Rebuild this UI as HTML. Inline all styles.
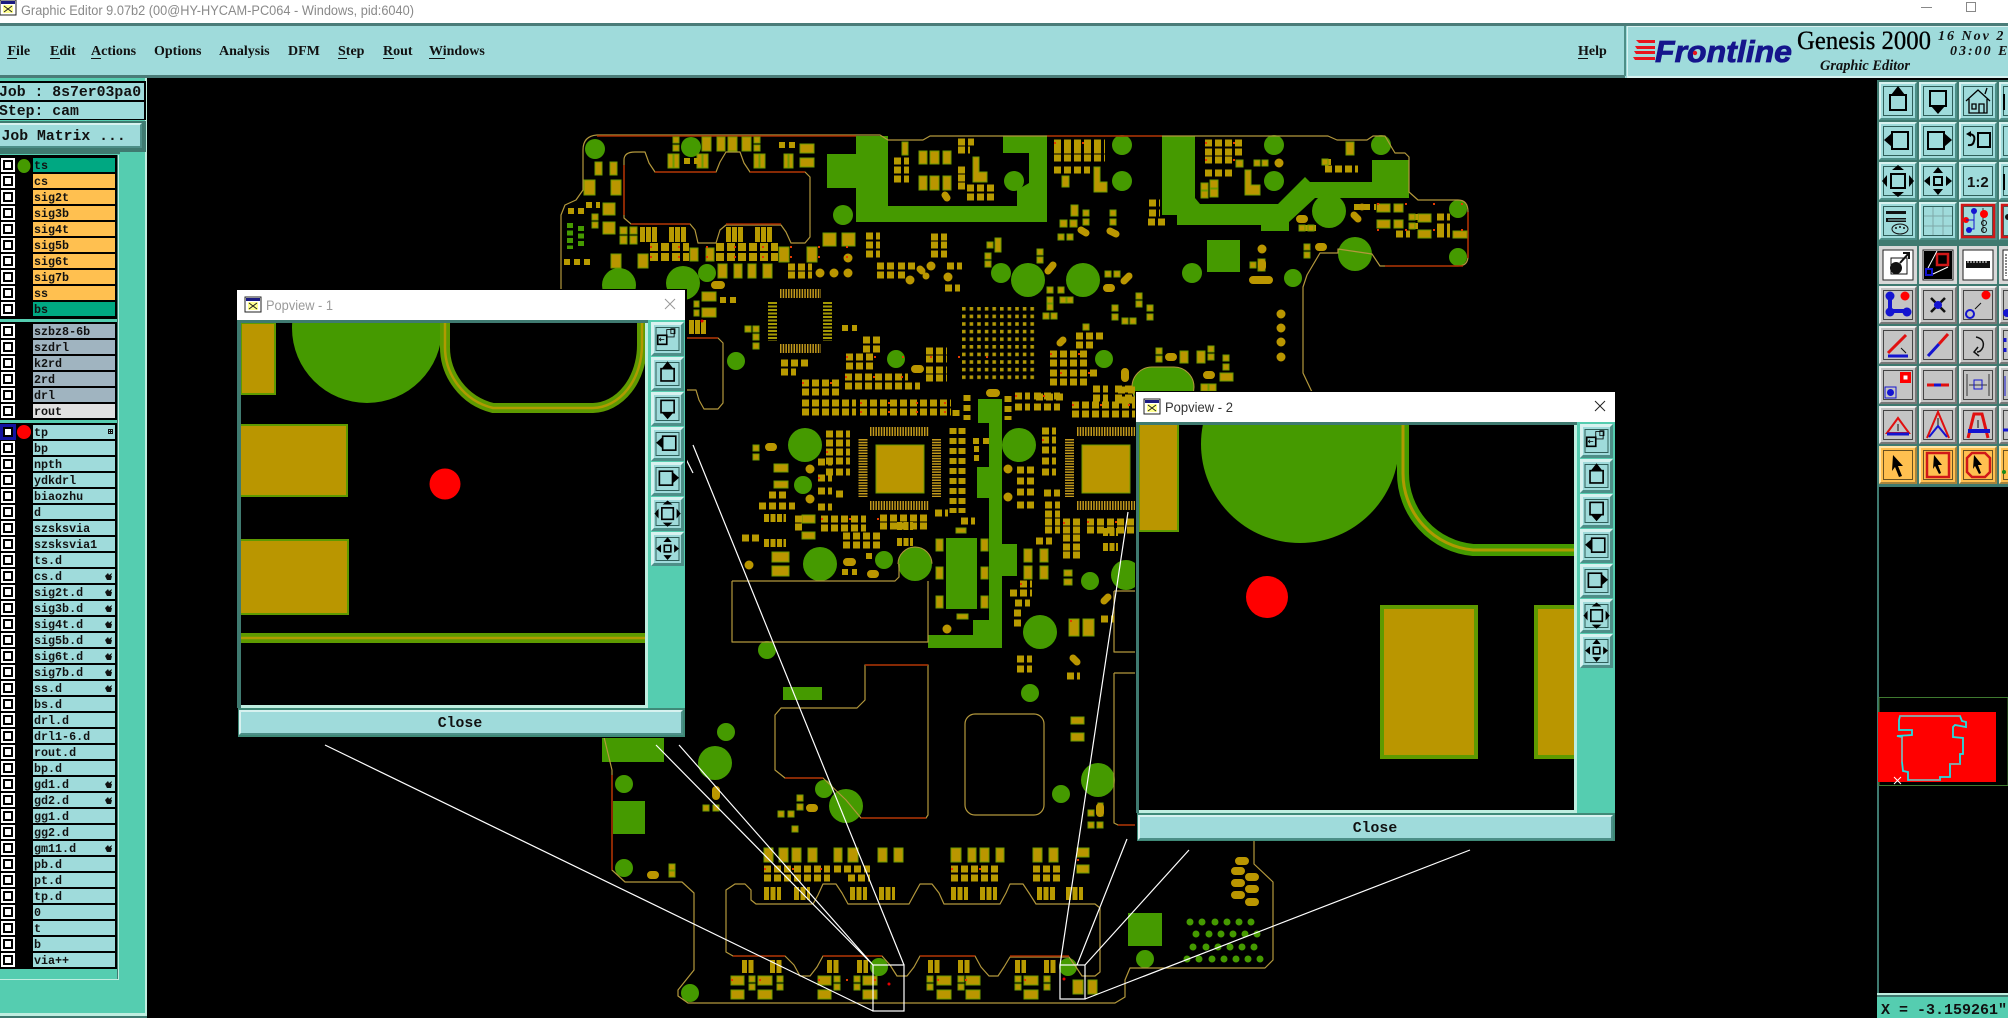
<!DOCTYPE html>
<html><head><meta charset="utf-8"><title>Graphic Editor</title>
<style>
html,body{margin:0;padding:0;background:#000;width:2008px;height:1018px;overflow:hidden}
svg{display:block}
.m{font:bold 14px "Liberation Serif",serif;fill:#111}
.l{font:bold 11.7px "Liberation Mono",monospace;fill:#111}
.j{font:bold 14.8px "Liberation Mono",monospace;fill:#111}
.o{fill:none;stroke:#b3983c;stroke-width:1.2;stroke-linejoin:round}
.r{fill:none;stroke:#a52a00;stroke-width:1.6}
.b{fill:#ba9600;stroke:#6c9a00;stroke-width:1}
.p{fill:none;stroke:#b89a00}
.c{fill:none;stroke:#459a00;stroke-linecap:round}
.y{fill:none;stroke:#ba9600;stroke-linecap:round}
.g{fill:#459a00}
.w{fill:none;stroke:#fff;stroke-width:1.2}
.k{fill:none;stroke:#000;stroke-width:2}
.t{fill:#000}
</style></head><body>
<svg xmlns="http://www.w3.org/2000/svg" width="2008" height="1018" viewBox="0 0 2008 1018">
<defs>
<pattern id="bga" width="7.6" height="7.6" patternUnits="userSpaceOnUse" x="962" y="307"><rect width="3.6" height="3.6" fill="#a59a05"/><rect x="1" y="1" width="1.5" height="1.5" fill="#d08a10"/></pattern>
<clipPath id="c1"><rect x="241" y="323" width="404" height="382"/></clipPath>
<clipPath id="c2"><rect x="1139" y="425" width="435" height="385"/></clipPath>
<g id="bT"><rect width="38" height="38" fill="#9fdbdb"/><path d="M0 38V0h38l-2 2H2v34z" fill="#d8f2f0"/><path d="M38 0v38H0l2-2h34V2z" fill="#4d8f88"/><rect x="4.5" y="4.5" width="29" height="29" fill="none" stroke="#2f5f5a"/></g>
<g id="bG"><rect width="38" height="38" fill="#c4c4c4"/><path d="M0 38V0h38l-2 2H2v34z" fill="#efefef"/><path d="M38 0v38H0l2-2h34V2z" fill="#777"/><rect x="4.5" y="4.5" width="29" height="29" fill="none" stroke="#444"/></g>
<g id="bW"><rect width="38" height="38" fill="#d8d8d8"/><rect x="4" y="4" width="30" height="30" fill="#fff" stroke="#222"/></g>
<g id="bY"><rect width="38" height="38" fill="#ffc050"/><path d="M0 38V0h38l-2 2H2v34z" fill="#ffe4a8"/><path d="M38 0v38H0l2-2h34V2z" fill="#a8843c"/><rect x="4.5" y="4.5" width="29" height="29" fill="none" stroke="#6a5220"/></g>
<g id="bP"><rect width="33" height="34" fill="#9fdbdb"/><path d="M0 34V0h33l-3 3H3v28z" fill="#d8f2f0"/><path d="M33 0v34H0l3-3h27V3z" fill="#4d8f88"/><rect x="5" y="5.500" width="23" height="23" fill="none" stroke="#2f5f5a"/></g>
<g id="iU"><rect x="11" y="13" width="16" height="15" class="k"/><path d="M12 13l7-9 7 9z" class="t"/></g>
<g id="iD"><rect x="11" y="9" width="16" height="15" class="k"/><path d="M12 24l7 8 7-8z" class="t"/></g>
<g id="iL"><rect x="13" y="10" width="16" height="17" class="k"/><path d="M5 18l8-7v14z" class="t"/></g>
<g id="iR"><rect x="9" y="10" width="16" height="17" class="k"/><path d="M33 18l-8-7v14z" class="t"/></g>
<g id="iF"><rect x="12" y="12" width="14" height="14" class="k"/><path d="M19 3l-6 5h12zM19 35l-6-5h12zM3 19l5-6v12zM35 19l-5-6v12z" class="t"/></g>
<g id="iS"><rect x="15" y="15" width="8" height="8" class="k"/><path d="M19 5l-5 6h10zM19 33l-5-6h10zM5 19l6-5v10zM33 19l-6-5v10z" class="t"/></g>
<g id="iX"><rect x="7" y="15" width="11" height="11" class="k"/><rect x="18" y="8" width="9" height="9" fill="none" stroke="#000"/><rect x="23" y="7" width="5" height="6" fill="none" stroke="#000"/><path d="M10 20h5M11 18l-2 2 2 2" fill="none" stroke="#000"/></g>
<g id="pvtb">
<use href="#bP"/><use href="#iX" transform="translate(1 1) scale(.82)"/>
<use href="#bP" y="35"/><use href="#iU" transform="translate(1 36) scale(.82)"/>
<use href="#bP" y="70"/><use href="#iD" transform="translate(1 71) scale(.82)"/>
<use href="#bP" y="105"/><use href="#iL" transform="translate(1 106) scale(.82)"/>
<use href="#bP" y="140"/><use href="#iR" transform="translate(1 141) scale(.82)"/>
<use href="#bP" y="175"/><use href="#iF" transform="translate(1 176) scale(.82)"/>
<use href="#bP" y="210"/><use href="#iS" transform="translate(1 211) scale(.82)"/>
</g>
<g id="ti"><rect width="16" height="15" fill="#fff" stroke="#222"/><rect x="1" y="1" width="14" height="3" fill="#1a1a80"/><rect x="3" y="5" width="10" height="8" fill="#ffff90"/><path d="M4 6l8 6M12 6l-8 6" stroke="#222" fill="none"/></g>
<path id="h" d="M0 4l3-3 1 2 3-2-1 3h1l-1 4H2z" fill="#111"/>
</defs>

<rect width="2008" height="1018" fill="#000"/>

<!-- PCB copper -->
<g id="pcb">
<path class="g" d="M856 136H888V206H1017V190L1029 183V153H1003V136H1047V222H856V188H827V154H856Z"/>
<path class="g" d="M1162 136H1195V198L1200 204H1278L1305 177 1310 182H1372V160H1409V198H1315L1289 222V231H1261V225H1177V215H1162Z"/>
<path class="g" d="M978 399H1002V544H1017V576H1002V648H928V635H973V620H989V498H977V467H989V423H978Z"/>
<path class="g" d="M946 538H977V609H946ZM1207 240H1240V272H1207ZM783 687H822V700H783ZM613 801H645V834H613ZM1128 913H1162V946H1128ZM602 737H664V762H602Z"/>
<rect x="1132" y="367" width="62" height="40" rx="20" fill="#459a00" stroke="#b3983c"/>
<path class="c" stroke-width="34" d="M619 285h0M683 283h0M1028 280h0M1083 280h0M805 445h0M1019 445h0M820 564h0M915 564h0M1040 632h0M715 763h0M846 806h0M1098 780h0M1329 211h0M1355 254h0"/>
<path class="c" stroke-width="30" d="M1126 575h0"/>
<path class="c" stroke-width="20" d="M1122 145h0M1122 181h0M1274 145h0M1274 181h0M1381 145h0M843 215h0M1001 273h0M1192 273h0M1014 181h0M595 149h0M691 147h0"/>
<path class="c" stroke-width="18" d="M707 273h0M736 361h0M896 359h0M1104 359h0M884 560h0M803 485h0M767 650h0M1090 581h0M1030 693h0M726 732h0M624 784h0M624 868h0M824 789h0M1061 794h0M1293 278h0M1458 209h0M1458 257h0M879 967h0M1068 967h0M1145 959h0M690 993h0"/>
<path class="c" stroke-width="7" d="M1190 922h0M1202 922h0M1215 922h0M1227 922h0M1239 922h0M1251 922h0M1196 934h0M1209 934h0M1221 934h0M1233 934h0M1245 934h0M1257 934h0M1193 947h0M1206 947h0M1218 947h0M1230 947h0M1242 947h0M1254 947h0M1187 959h0M1199 959h0M1212 959h0M1224 959h0M1236 959h0M1248 959h0M1260 959h0"/>
<path fill="none" stroke="#459a00" stroke-width="6" stroke-dasharray="5 2.500" d="M570 223V249M581 226V246"/>

<!-- outline -->
<path class="o" d="M583 180V150Q583 136 597 135H880L888 140H923L930 136H1328L1337 140H1367L1373 136H1385L1392 148 1395 153H1405L1409 157V192L1418 200H1458Q1468 200 1468 212V256Q1468 266 1458 266H1385L1380 266 1372 254 1338 249 1338 253H1320L1307 275 1303 287V373L1312 392"/>
<path class="o" d="M583 180V190L576 200 565 205 561 215V290"/>
<path class="o" d="M604 737 612 770V870L625 882H682L694 893V970L678 990V996L688 1003H1115L1125 997V980L1130 968H1265L1273 960V882L1254 864V840"/>
<path class="o" d="M624 160Q624 152 635 152H645L649 163 655 172H716L720 162 726 152H740L744 163 750 172H805L810 177V237L805 243H791L786 232 781 225H726L720 230 716 243H698L695 230 690 224H631L624 218Z"/>
<path class="o" d="M685 338H718L723 343V403L718 409H704L699 400 696 390H685"/>
<path class="o" d="M732 581H895L899 577V564M928 581V642H732V581"/>
<circle cx="915" cy="564" r="17" fill="none" stroke="#b3983c" stroke-dasharray="53 54" transform="rotate(180 915 564)"/>
<path class="o" d="M865 665H928V815L926 818H861L846 800 823 778H785L775 770V715L781 708H857L865 700Z"/>
<rect class="o" x="965" y="714" width="79" height="101" rx="10"/>
<path class="o" d="M1114 591H1136M1114 591V652H1136M1114 673H1136M1114 673V823L1118 825H1136"/>
<path class="o" d="M726 890L735 884H745L751 890V900L756 904H813L818 895 823 884H836L842 893 848 904H909L915 893 920 884H932L939 893 944 904H1000L1006 893 1010 884H1023L1029 893 1036 904H1095L1100 908V972L1095 976H1082L1076 967 1069 957H1010L1004 967 998 976H989L981 967 975 956H920L914 967 907 976H897L890 965 882 956H823L817 967 810 976H800L794 965 785 956H733L726 952Z"/>
<path class="r" d="M597 136H856M1047 136H1162M624 165V215M655 172H716M750 172H805M631 224H690M726 224H781M685 338H718M1385 266H1463M1468 212V258M612 775V870M865 665H928M861 818H926M1118 825H1136M733 956H785M823 956H882M920 956H975M1010 956H1069M785 778H823"/>

<!-- big pads -->
<path class="b" d="M702 137h9v14h-9zM717 137h8v14h-8zM728 137h9v14h-9zM742 137h9v14h-9zM668 154h5v14h-5zM674 154h5v14h-5zM697 154h5v14h-5zM703 154h5v14h-5zM754 154h5v14h-5zM760 154h5v14h-5zM784 154h4v14h-4zM789 154h4v14h-4zM800 144h14v9h-14zM800 158h14v9h-14zM595 162h7v13h-7zM610 162h7v13h-7zM584 180h11v15h-11zM611 180h10v15h-10zM603 203h12v12h-12zM603 222h12v12h-12zM611 254h10v14h-10zM638 254h10v14h-10zM690 248h8v13h-8zM706 248h8v13h-8zM779 247h10v15h-10zM807 247h10v15h-10zM823 233h13v13h-13zM842 233h13v13h-13zM718 264h9v14h-9zM734 264h8v14h-8zM748 264h8v14h-8zM763 264h9v14h-9zM702 292h14v9h-14zM702 308h14v9h-14zM919 151h8v13h-8zM930 151h9v13h-9zM943 151h8v13h-8zM919 176h8v14h-8zM930 176h9v14h-9zM943 176h8v14h-8zM902 142h6v13h-6zM1062 176h7v11h-7zM1071 205h7v11h-7z"/>
<path class="b" d="M876 445h48v48h-48zM1082 445h48v48h-48zM774 464h14v8h-14zM774 481h14v7h-14zM772 552h17v10h-17zM772 566h17v10h-17zM802 515h13v8h-13zM802 532h13v7h-13zM956 528h10v5h-10zM957 614h11v5h-11zM1024 549h8v13h-8zM1024 566h8v13h-8zM1040 549h8v13h-8zM1040 566h8v13h-8zM1069 619h10v17h-10zM1083 619h11v17h-11zM1071 717h13v7h-13zM1071 733h13v8h-13zM936 539h7v12h-7zM936 567h7v12h-7zM936 596h7v12h-7zM981 539h7v12h-7zM981 567h7v12h-7zM981 596h7v12h-7zM1346 142h8v13h-8zM1377 204h13v8h-13zM1394 204h9v8h-9zM1377 220h13v8h-13zM1394 220h9v8h-9zM1418 214h13v8h-13zM1418 230h13v8h-13zM1453 231h14v7h-14zM1180 351h8v12h-8zM1197 351h8v12h-8zM1220 373h13v8h-13z"/>
<path class="b" d="M764 848h9v14h-9zM779 848h9v14h-9zM792 848h9v14h-9zM808 848h9v14h-9zM834 848h8v14h-8zM848 848h10v14h-10zM878 848h9v14h-9zM894 848h9v14h-9zM951 848h10v14h-10zM968 848h8v14h-8zM980 848h9v14h-9zM996 848h8v14h-8zM1033 848h9v14h-9zM1049 848h9v14h-9zM1077 848h12v9h-12zM1077 865h12v8h-12zM731 976h13v9h-13zM758 976h14v9h-14zM818 976h13v9h-13zM863 976h14v9h-14zM937 976h14v9h-14zM966 976h14v9h-14zM1024 976h14v9h-14zM731 990h13v9h-13zM758 990h14v9h-14zM818 990h13v9h-13zM863 990h14v9h-14zM937 990h14v9h-14zM966 990h14v9h-14zM1024 990h14v9h-14zM1073 980h10v14h-10zM1088 980h9v14h-9z"/>
<path class="b" d="M1245 170h6v15h9v10h-15zM1094 167h6v15h7v10h-13zM973 157h6v15h8v10h-14z"/>
<!-- striped bars -->
<path class="p" stroke-width="15" stroke-dasharray="5 1" d="M640 234.500H657M669 234.500H686M726 234.500H743M755 234.500H772"/>
<path class="p" stroke-width="14" stroke-dasharray="5 1" d="M689 327H706"/>
<path class="p" stroke-width="13" stroke-dasharray="5 1.500" d="M764 893.500H781M794 893.500H810M850 893.500H867M879 893.500H895M951 893.500H968M980 893.500H997M1037 893.500H1055M1066 893.500H1083M742 966.500H754M770 966.500H782M827 966.500H840M857 966.500H868M928 966.500H940M958 966.500H970M1015 966.500H1026M1044 966.500H1056"/>
<path class="p" stroke-width="8" stroke-dasharray="5 1.500" d="M764 518H786M764 543H786M897 526H913M897 542H913M1103 532H1118M1103 547H1118"/>
<!-- QFN/QFP hatching -->
<path fill="none" stroke="#c39a1c" stroke-width="9" stroke-dasharray="1.500 1.200" d="M870 431.500H929M870 505.500H929M1077 431.500H1135M1077 505.500H1135M780 293.500H821M780 348.500H821"/>
<path fill="none" stroke="#c39a1c" stroke-width="9" stroke-dasharray="1.500 1.200" d="M863 439V497M936.500 439V497M1069.500 439V497"/>
<path fill="none" stroke="#a59a05" stroke-width="9" stroke-dasharray="2 1.500" d="M772.500 302V341M827.500 302V341"/>
<rect x="962" y="307" width="74" height="75" fill="url(#bga)"/>
<!-- pad rows -->
<path class="p" stroke-width="8" stroke-dasharray="8 3" d="M650 247H689M716 247H778M650 257H689M716 257H778"/>
<g class="p" stroke-width="7">
<path stroke-dasharray="7 3" d="M846 357H876M846 366H876M926 351H947M926 359H947M926 370H947M926 378H947M845 377H908M845 386H920M802 383H840M802 392H840M802 403H856M802 412H856M860 403H951M860 412H951M1015 396H1030M1015 407H1030M1034 396H1060M1034 407H1060M1036 397H1063M1072 405H1135M1072 414H1135M821 519H866M821 528H866M843 536H883M843 545H883M880 518H928M880 526H928M1063 522H1083M1063 530H1083M1063 538H1083M1063 547H1083M1063 555H1083M1087 522H1135M1087 530H1135M826 434H850M826 443H850M826 452H850M826 461H850M826 472H850M818 462H832M818 478H832M818 491H832M818 507H832M836 494H846M1017 470H1034M1017 481H1034M1017 492H1034M1017 505H1034M1042 431H1056M1042 440H1056M1042 450H1056M1042 461H1056M1042 472H1056M1044 493H1060M1045 505H1060M1045 514H1060M1045 522H1060M1045 530H1060M1036 541H1052M1205 143H1243M1205 152H1243M1205 160H1235M1205 173H1235M1054 143H1105M1054 150H1105M1054 158H1105M1054 170H1090M1325 169H1358M1377 207H1380M1437 217H1450M1437 227H1450M1396 234H1410M1437 234H1450M1050 354H1088M1050 363H1088M1076 336H1104M1076 345H1095M1050 373H1097M1050 382H1088M1093 389H1108M1093 398H1108M1115 389H1135M1115 398H1135M1149 203H1160M1149 213H1160M1148 222H1165M1118 390H1135M1118 400H1135M958 142H974M958 150H970M958 170H965M958 178H965M958 186H965M967 188H995M967 197H995M894 161H909M894 170H909M894 179H909M866 236H880M866 245H880M866 254H880M931 237H947M931 245H947M931 254H947M877 266H895M877 275H895M898 266H915M898 275H905M947 266H962M945 288H960M863 340H880M863 349H880M846 366H876M781 363H810M781 372H796M802 383H840M788 267H812M788 275H812M769 495H786M759 506H795M742 538H760M795 519H802M795 527H802M1020 584H1032M1010 593H1032M1015 603H1030M1014 613H1024M1014 623H1024M1017 659H1032M1017 669H1032M1067 676H1080M1101 619H1114M764 869H830M764 878H830M834 869H870M848 878H870M951 869H1000M951 878H1000M1033 869H1060M1033 878H1060M1077 869H1085M935 513H948M961 521H975"/>
<path stroke-dasharray="6 4" d="M953 428V513M962 428V513M967 395V420M956 410V418M1008 396V420"/>
</g>
<g class="p" stroke-width="6">
<path stroke-dasharray="6 4" d="M564 262H594M779 145H795M586 205H600M568 211H585M684 161H698M720 300H736M842 328H857M781 372H796M866 556H872M842 572H857M973 441H989M974 449H979M974 458H979M1101 619H1114M1325 162H1331M1412 217H1418M1412 226H1418M1354 207H1376M1302 228H1316"/>
</g>
<path class="b" d="M673 137h6v6h-6zM673 145h6v6h-6zM754 137h6v6h-6zM754 145h6v6h-6zM592 214h6v6h-6zM592 222h6v6h-6zM620 227h7v7h-7zM630 227h7v7h-7zM620 236h7v8h-7zM630 236h7v8h-7zM694 301h5v6h-5zM694 310h5v6h-5zM745 326h6v6h-6zM753 326h6v6h-6zM753 334h6v6h-6zM753 343h6v6h-6zM1060 220h7v7h-7zM1070 220h7v7h-7zM1058 234h6v6h-6zM1067 234h6v6h-6zM1083 210h6v6h-6zM1083 219h6v6h-6zM1110 210h6v6h-6zM1110 219h6v6h-6zM1105 271h6v6h-6zM1114 271h6v6h-6zM1047 287h6v6h-6zM1058 287h6v6h-6zM1047 297h6v6h-6zM1060 297h6v6h-6zM1067 297h6v6h-6zM1047 304h6v6h-6zM1043 313h6v6h-6zM1051 313h6v6h-6zM1112 305h6v6h-6zM1112 314h6v6h-6zM1122 318h6v6h-6zM1130 318h6v6h-6zM1136 293h6v6h-6zM1136 301h6v6h-6zM1147 305h6v6h-6zM1147 314h6v6h-6zM1083 324h6v6h-6zM987 242h6v6h-6zM985 253h6v6h-6zM985 261h6v6h-6zM995 238h6v14h-6zM1037 249h6v6h-6zM1037 257h6v6h-6zM753 445h6v6h-6zM753 454h6v6h-6zM1064 570h8v6h-8zM1064 579h8v6h-8zM1156 348h6v6h-6zM1156 356h6v6h-6zM1208 346h6v6h-6zM1208 354h6v6h-6zM1223 355h6v6h-6zM1223 364h6v6h-6zM1201 384h7v7h-7zM1209 384h7v7h-7zM1201 183h7v7h-7zM1201 191h7v7h-7zM1210 180h8v8h-8zM1210 189h8v8h-8zM1254 160h6v6h-6zM1262 160h6v6h-6zM1236 160h7v7h-7zM1322 159h6v6h-6zM1409 214h6v6h-6zM1409 223h6v6h-6zM1304 244h6v6h-6zM1304 252h6v6h-6zM1299 225h6v6h-6zM1308 225h6v6h-6zM1250 262h6v6h-6zM1258 259h7v12h-7zM1088 810h6v6h-6zM1098 803h5v13h-5zM1097 822h6v6h-6zM1088 822h6v6h-6zM703 805h6v6h-6zM713 805h6v6h-6zM797 795h6v6h-6zM797 804h6v6h-6zM778 811h6v6h-6zM788 811h6v6h-6zM792 826h6v6h-6zM669 864h6v6h-6zM669 871h6v6h-6zM749 976h6v6h-6zM749 984h6v6h-6zM777 976h6v6h-6zM777 984h6v6h-6zM834 976h6v6h-6zM834 984h6v6h-6zM854 976h6v6h-6zM854 984h6v6h-6zM927 976h6v6h-6zM927 984h6v6h-6zM958 976h6v6h-6zM958 984h6v6h-6zM1015 976h6v6h-6zM1015 984h6v6h-6zM1044 976h6v6h-6zM1044 984h6v6h-6z"/>
<path class="y" stroke-width="9" d="M820 273h0M834 273h0M848 273h0M848 258h0M910 280h0M931 266h0M948 277h0M810 469h0M810 499h0M749 565h0M1008 469h0M1008 497h0M947 629h0M1281 314h0M1281 328h0M1281 342h0M1281 357h0M1279 163h0M1262 249h0"/>
<path class="y" stroke-width="8" d="M715 285h6M769 447h4M847 562h5M871 574h4M915 369h5M990 393h6M1300 219h4M1319 247h4M1107 288h4M1169 357h4M1207 375h4M810 808h4M651 875h4M1239 861h6M1235 871h6M1235 883h6M1235 895h6M1249 877h6M1249 889h6M1249 902h6M1253 280h16M716 790v6M1125 372v6M1100 807v6M1262 263v4"/>
<path class="y" stroke-width="7" d="M1081 230l5 3M1110 231l6 3M1048 271l5-6M1124 281l5-5M920 269l2 2M926 276h0M945 195l2 3M1060 343l3-3M1104 601l4-4M1073 658l4 4M1354 215l4 4M1362 207h0"/>
<!-- red flecks -->
<path fill="none" stroke="#e63a00" stroke-width="2" stroke-dasharray="2 26" d="M650 247H860M650 257H860M846 357H1000M860 403H960M860 412H960M1072 405H1136M1087 522H1136M821 519H880M764 869H830M951 869H1000M1205 143H1244M1205 160H1244M1377 204H1470M1377 230H1470M1054 143H1105M1050 354H1090M1060 373H1105M802 383H840M1015 396H1060M845 377H908M1042 440H1056M818 478H832M1020 584H1032M1070 621H1095M1077 860H1089M731 980H770M818 980H877M937 980H980M1024 980H1038M1063 523H1083M826 452H850"/>
<path class="c" style="stroke:#e60000" stroke-width="3" d="M889 984h0M1064 979h0M702 321h0"/>
</g>

<!-- white connector lines -->
<g class="w">
<rect x="873" y="965" width="31" height="46"/>
<rect x="1060" y="965" width="25" height="34"/>
<path d="M325 745L873 1011M656 745L873 965M679 745L873 965M693 445L904 965M685 457L693 473M1060 965L1128 512M1077 965L1127 839M1085 965L1189 850M1085 999L1470 850"/>
</g>

<!-- title bar -->
<rect width="2008" height="23" fill="#fff"/>
<use href="#ti" x="0" y="0"/>
<text x="21" y="15" font-family="'Liberation Sans',sans-serif" font-size="13.500" fill="#8a8a8a" textLength="393" lengthAdjust="spacingAndGlyphs">Graphic Editor 9.07b2 (00@HY-HYCAM-PC064 - Windows, pid:6040)</text>
<path d="M1921 7.500h11" stroke="#888" fill="none"/>
<rect x="1966.500" y="2.500" width="9" height="9" fill="none" stroke="#888"/>

<!-- menu bar -->
<rect y="23" width="2008" height="3" fill="#4a7c78"/>
<rect y="26" width="2008" height="52" fill="#9fdbdb"/>
<rect y="75" width="1625" height="3" fill="#4a7c78"/>
<text class="m" x="7.500" y="55">File</text><text class="m" x="50" y="55">Edit</text><text class="m" x="91" y="55">Actions</text><text class="m" x="154" y="55">Options</text><text class="m" x="219" y="55">Analysis</text><text class="m" x="288" y="55">DFM</text><text class="m" x="338" y="55">Step</text><text class="m" x="383" y="55">Rout</text><text class="m" x="429" y="55">Windows</text><text class="m" x="1578" y="55">Help</text>
<path d="M7 58.500h10M50 58.500h10M91 58.500h10M338 58.500h9M383 58.500h11M429 58.500h16M1578 58.500h10" stroke="#111" fill="none"/>

<!-- logo panel -->
<rect x="1624" y="26" width="2" height="50" fill="#4d8f88"/>
<path d="M1627 26h381v1h-380v49h381v2h-382z" fill="#d8f2f0"/>
<path d="M1636 40h19v3h-16zM1635 46h20v3h-18zM1634 51h21v3h-19zM1633 57h22v3h-20z" fill="#e8141c"/>
<text x="1655" y="62" font-family="'Liberation Sans',sans-serif" font-size="31" font-weight="bold" font-style="italic" fill="#15158c" stroke="#15158c" stroke-width=".8" textLength="137" lengthAdjust="spacingAndGlyphs">Frontline</text>
<circle cx="1695" cy="53" r="2.200" fill="#e8141c"/>
<text x="1797" y="49" font-family="'Liberation Serif',serif" font-size="26" fill="#000" stroke="#000" stroke-width=".3" textLength="134" lengthAdjust="spacingAndGlyphs">Genesis 2000</text>
<text x="1820" y="70" font-family="'Liberation Serif',serif" font-size="15" font-weight="bold" font-style="italic" fill="#111" textLength="90" lengthAdjust="spacingAndGlyphs">Graphic Editor</text>
<text x="1938" y="40" font-family="'Liberation Serif',serif" font-size="14" font-style="italic" font-weight="bold" fill="#111" letter-spacing="2">16 Nov 2</text>
<text x="1950" y="55" font-family="'Liberation Serif',serif" font-size="14" font-style="italic" font-weight="bold" fill="#111" letter-spacing="2">03:00 E</text>

<!-- left panel -->
<rect y="78" width="147" height="940" fill="#55cdb0"/>
<rect x="145" y="78" width="2" height="940" fill="#bfeee0"/>
<rect y="1013" width="147" height="3" fill="#bfeee0"/>
<rect y="1016" width="147" height="2" fill="#3f7a70"/>
<rect y="81" width="146" height="20" fill="#000"/>
<rect y="83" width="144" height="17" fill="#9fdbdb"/>
<rect y="101" width="146" height="19" fill="#000"/>
<rect y="102" width="144" height="17" fill="#9fdbdb"/>
<rect y="121" width="146" height="31" fill="#3f7a70"/>
<rect y="123" width="142" height="25" fill="#9fdbdb"/>
<path d="M0 123h142l-2 2H0z" fill="#d8f2f0"/><path d="M142 123v25H0v-2h140v-21z" fill="#4d8f88"/>
<text class="j" x="-1" y="96">Job : 8s7er03pa0</text>
<text class="j" x="-1" y="115">Step: cam</text>
<text class="j" x="1.500" y="140">Job Matrix ...</text>
<rect y="152" width="120" height="2" fill="#3f7a70"/>
<rect y="155" width="117" height="814" fill="#000"/>
<rect x="117" y="155" width="2" height="825" fill="#3f7a70"/>
<path d="M119 155v825H0v-1h118V155z" fill="#bfeee0"/>
<rect y="319" width="117" height="3" fill="#55cdb0"/>
<rect y="420" width="117" height="3" fill="#55cdb0"/>
<!-- label backgrounds -->
<rect x="33" y="158" width="82" height="14" fill="#00a882"/>
<path fill="none" stroke="#ffc050" stroke-width="82" stroke-dasharray="14 2" d="M74 174V302"/>
<rect x="33" y="302" width="82" height="14" fill="#00a882"/>
<path fill="none" stroke="#a0b4c0" stroke-width="82" stroke-dasharray="14 2" d="M74 324V404"/>
<rect x="33" y="404" width="82" height="14" fill="#e0e0e0"/>
<path fill="none" stroke="#9fdbdb" stroke-width="82" stroke-dasharray="14 2" d="M74 425V968"/>
<!-- check boxes -->
<g fill="none">
<path stroke="#fff" stroke-width="14" stroke-dasharray="14 2" d="M8 158V318M8 324V420M8 425V969"/>
<path stroke="#000" stroke-width="10" stroke-dasharray="10 6" d="M8 160V318M8 326V420M8 427V969"/>
<path stroke="#fff" stroke-width="6" stroke-dasharray="6 10" d="M8 162V318M8 328V420M8 429V969"/>
</g>
<rect x="1.500" y="425.500" width="13" height="13" fill="none" stroke="#1414a0" stroke-width="3"/>
<ellipse cx="24" cy="166" rx="6.500" ry="7" fill="#459a00"/>
<circle cx="24" cy="432" r="7" fill="#f00"/>
<text class="l" x="34" y="169">ts</text><text class="l" x="34" y="185">cs</text><text class="l" x="34" y="201">sig2t</text><text class="l" x="34" y="217">sig3b</text><text class="l" x="34" y="233">sig4t</text><text class="l" x="34" y="249">sig5b</text><text class="l" x="34" y="265">sig6t</text><text class="l" x="34" y="281">sig7b</text><text class="l" x="34" y="297">ss</text><text class="l" x="34" y="313">bs</text>
<text class="l" x="34" y="335">szbz8-6b</text><text class="l" x="34" y="351">szdrl</text><text class="l" x="34" y="367">k2rd</text><text class="l" x="34" y="383">2rd</text><text class="l" x="34" y="399">drl</text><text class="l" x="34" y="415">rout</text>
<text class="l" x="34" y="436">tp</text><text class="l" x="34" y="452">bp</text><text class="l" x="34" y="468">npth</text><text class="l" x="34" y="484">ydkdrl</text><text class="l" x="34" y="500">biaozhu</text><text class="l" x="34" y="516">d</text><text class="l" x="34" y="532">szsksvia</text><text class="l" x="34" y="548">szsksvia1</text><text class="l" x="34" y="564">ts.d</text><text class="l" x="34" y="580">cs.d</text><text class="l" x="34" y="596">sig2t.d</text><text class="l" x="34" y="612">sig3b.d</text><text class="l" x="34" y="628">sig4t.d</text><text class="l" x="34" y="644">sig5b.d</text><text class="l" x="34" y="660">sig6t.d</text><text class="l" x="34" y="676">sig7b.d</text><text class="l" x="34" y="692">ss.d</text><text class="l" x="34" y="708">bs.d</text><text class="l" x="34" y="724">drl.d</text><text class="l" x="34" y="740">drl1-6.d</text><text class="l" x="34" y="756">rout.d</text><text class="l" x="34" y="772">bp.d</text><text class="l" x="34" y="788">gd1.d</text><text class="l" x="34" y="804">gd2.d</text><text class="l" x="34" y="820">gg1.d</text><text class="l" x="34" y="836">gg2.d</text><text class="l" x="34" y="852">gm11.d</text><text class="l" x="34" y="868">pb.d</text><text class="l" x="34" y="884">pt.d</text><text class="l" x="34" y="900">tp.d</text><text class="l" x="34" y="916">0</text><text class="l" x="34" y="932">t</text><text class="l" x="34" y="948">b</text><text class="l" x="34" y="964">via++</text>
<rect x="108.500" y="429.500" width="4" height="4" fill="none" stroke="#111"/>
<path d="M108 431.500h5M110.500 429v5" stroke="#111" fill="none"/>
<use href="#h" x="105" y="572"/><use href="#h" x="105" y="588"/><use href="#h" x="105" y="604"/><use href="#h" x="105" y="620"/><use href="#h" x="105" y="636"/><use href="#h" x="105" y="652"/><use href="#h" x="105" y="668"/><use href="#h" x="105" y="684"/><use href="#h" x="105" y="780"/><use href="#h" x="105" y="796"/><use href="#h" x="105" y="844"/>

<!-- right toolbar -->
<rect x="1877" y="80" width="131" height="407" fill="#3f7a70"/>
<rect x="1877" y="487" width="2" height="510" fill="#3f7a70"/>
<g transform="translate(1879 82)"><use href="#bT"/><use href="#iU"/></g>
<g transform="translate(1919 82)"><use href="#bT"/><use href="#iD"/></g>
<g transform="translate(1959 82)"><use href="#bT"/><path d="M7 19L19 8l12 11M10 17v14h18V17M13 22h4v5h-4zM20 22h5v9h-5zM26 12l2-6" fill="none" stroke="#000" stroke-width="1.300"/></g>
<g transform="translate(1999 82)"><use href="#bT"/><path d="M5 12v16" stroke="#000" stroke-width="2"/></g>
<g transform="translate(1879 122)"><use href="#bT"/><use href="#iL"/></g>
<g transform="translate(1919 122)"><use href="#bT"/><use href="#iR"/></g>
<g transform="translate(1959 122)"><use href="#bT"/><rect x="19" y="11" width="12" height="14" class="k"/><path d="M9 12q8 0 6 7-1 5-6 4" fill="none" stroke="#000" stroke-width="2"/><path d="M7 12l5-3v6z" class="t"/></g>
<g transform="translate(1999 122)"><use href="#bT"/></g>
<g transform="translate(1879 162)"><use href="#bT"/><use href="#iF"/></g>
<g transform="translate(1919 162)"><use href="#bT"/><use href="#iS"/></g>
<g transform="translate(1959 162)"><use href="#bT"/><text x="8" y="25" font-family="'Liberation Sans',sans-serif" font-size="15" font-weight="bold" fill="#111">1:2</text></g>
<g transform="translate(1999 162)"><use href="#bT"/><path d="M5 12v16" stroke="#000" stroke-width="2"/></g>
<g transform="translate(1879 202)"><use href="#bT"/><path d="M7 9h20v3H7zM7 16h20v4H7z" fill="#111"/><path d="M9 18h18" stroke="#9fdbdb"/><ellipse cx="21" cy="27" rx="8" ry="5" fill="none" stroke="#111"/><path d="M17 26h0M21 25h0M25 26h0" stroke="#111" stroke-width="2" stroke-linecap="round"/></g>
<g transform="translate(1919 202)"><use href="#bT"/><path d="M14 5v28M24 5v28M5 14h28M5 24h28" stroke="#7fa8a8" fill="none"/></g>
<g transform="translate(1959 202)"><use href="#bT"/><rect x="3" y="3" width="32" height="32" fill="none" stroke="#d01818" stroke-width="2.500"/><path d="M24 6v24" stroke="#333"/><circle cx="25" cy="12" r="4" fill="#f00"/><circle cx="25" cy="21" r="2.500" fill="none" stroke="#111"/><circle cx="25" cy="28" r="2.500" fill="none" stroke="#111"/><circle cx="15" cy="9" r="3" fill="#1414d0"/><circle cx="7" cy="18" r="3" fill="#f00"/><circle cx="10" cy="28" r="3" fill="#1414d0"/><path d="M15 9v18h-5M7 18h8" fill="none" stroke="#1414d0"/></g>
<g transform="translate(1999 202)"><use href="#bT"/><rect x="3" y="3" width="8" height="32" fill="none" stroke="#d01818" stroke-width="2.500"/><circle cx="9" cy="15" r="3" fill="#111"/></g>

<g transform="translate(1879 246)"><use href="#bW"/><rect x="12" y="12" width="16" height="16" fill="none" stroke="#111"/><circle cx="17" cy="22" r="6" fill="#111"/><path d="M21 17l9-10M24 7h6v6" fill="none" stroke="#111" stroke-width="2"/></g>
<g transform="translate(1919 246)"><use href="#bW"/><rect x="5" y="5" width="28" height="28" fill="#000"/><rect x="18" y="8" width="11" height="11" fill="none" stroke="#d01818" stroke-width="2.500"/><rect x="7" y="23" width="6" height="6" fill="none" stroke="#1414d0" stroke-width="2"/><path d="M9 22l9-17M14 28l15-7" stroke="#fff" fill="none"/></g>
<g transform="translate(1959 246)"><use href="#bW"/><rect x="7" y="15" width="24" height="7" fill="#111"/><path d="M9 14v3M12 14v3M15 14v3M18 14v3M21 14v3M24 14v3M27 14v3" stroke="#fff" fill="none"/></g>
<g transform="translate(1999 246)"><use href="#bW"/><path d="M7 8v22" stroke="#111" stroke-dasharray="2 1" fill="none"/></g>

<g transform="translate(1879 286)"><use href="#bG"/><path d="M11 9v16h16" fill="none" stroke="#1414d0" stroke-width="4"/><circle cx="11" cy="10" r="4.500" fill="#1414d0"/><circle cx="11" cy="26" r="4.500" fill="#1414d0"/><circle cx="28" cy="26" r="4.500" fill="#1414d0"/><circle cx="26" cy="10" r="4.500" fill="#f00"/></g>
<g transform="translate(1919 286)"><use href="#bG"/><path d="M12 12l14 14M26 12l-14 14" stroke="#111" stroke-width="2.500"/><circle cx="19" cy="19" r="4" fill="#1414d0"/></g>
<g transform="translate(1959 286)"><use href="#bG"/><circle cx="11" cy="28" r="4" fill="none" stroke="#1414d0" stroke-width="2"/><circle cx="27" cy="9" r="4.500" fill="#f00"/><path d="M16 23l6-6" stroke="#111"/></g>
<g transform="translate(1999 286)"><use href="#bG"/><circle cx="8" cy="27" r="4" fill="#1414d0"/></g>

<g transform="translate(1879 326)"><use href="#bG"/><path d="M9 27L27 9" stroke="#e01010" stroke-width="3"/><path d="M9 30h20" stroke="#1414d0" stroke-width="3"/><path d="M22 22l5 5" stroke="#111"/></g>
<g transform="translate(1919 326)"><use href="#bG"/><path d="M9 30L20 18" stroke="#1414d0" stroke-width="3"/><path d="M20 18l9-10" stroke="#e01010" stroke-width="3"/></g>
<g transform="translate(1959 326)"><use href="#bG"/><path d="M17 11q9 2 7 10-2 5-6 5" fill="none" stroke="#111" stroke-width="1.500"/><path d="M19 21l-4 5 5 4" fill="none" stroke="#111" stroke-width="1.500"/></g>
<g transform="translate(1999 326)"><use href="#bG"/><path d="M6 12v4M6 22v4" stroke="#1414d0" stroke-width="3"/></g>

<g transform="translate(1879 366)"><use href="#bG"/><rect x="21" y="6" width="11" height="11" fill="#f00"/><rect x="24.500" y="9.500" width="4" height="4" fill="#fff"/><rect x="6" y="21" width="11" height="11" fill="none" stroke="#1414d0"/><circle cx="11.500" cy="26.500" r="3.500" fill="#1414d0"/></g>
<g transform="translate(1919 366)"><use href="#bG"/><path d="M8 19h22" stroke="#e01010" stroke-width="3"/><path d="M15 19h7" stroke="#1414d0" stroke-width="3"/></g>
<g transform="translate(1959 366)"><use href="#bG"/><path d="M8 8v22M30 8v22M10 19h18" stroke="#333" fill="none"/><rect x="15" y="14" width="8" height="9" fill="none" stroke="#1414d0"/></g>
<g transform="translate(1999 366)"><use href="#bG"/><path d="M6 10v20" stroke="#1414d0"/></g>

<g transform="translate(1879 406)"><use href="#bG"/><path d="M8 27L19 12l11 15z" fill="none" stroke="#e01010" stroke-width="2"/><path d="M8 28h22" stroke="#1414d0" stroke-width="3"/><path d="M19 25v-7" stroke="#111"/></g>
<g transform="translate(1919 406)"><use href="#bG"/><path d="M8 32L19 6l11 26" fill="none" stroke="#e01010" stroke-width="2"/><path d="M10 31l9-11 9 11" fill="none" stroke="#1414d0" stroke-width="2"/><path d="M19 19v-7" stroke="#111"/></g>
<g transform="translate(1959 406)"><use href="#bG"/><path d="M9 32L15 8h8l6 24" fill="none" stroke="#e01010" stroke-width="3"/><path d="M9 25h20v2" fill="none" stroke="#1414d0" stroke-width="4"/><path d="M19 22v-8" stroke="#111"/></g>
<g transform="translate(1999 406)"><use href="#bG"/><path d="M4 24h5" stroke="#1414d0" stroke-width="3"/></g>

<g transform="translate(1879 446)"><use href="#bY"/><path d="M14 9l10 11-5 0 4 10-3 1-4-10-3 4z" class="t"/></g>
<g transform="translate(1919 446)"><use href="#bY"/><rect x="8" y="7" width="22" height="24" fill="none" stroke="#d01818" stroke-width="2.500"/><path d="M15 9l8 10-4 0 3 8-2 1-4-8-2 3z" class="t"/></g>
<g transform="translate(1959 446)"><use href="#bY"/><path d="M13 7h13l5 5v14l-5 5H13l-5-5V12z" fill="none" stroke="#d01818" stroke-width="2.500"/><path d="M15 9l8 10-4 0 3 8-2 1-4-8-2 3z" class="t"/></g>
<g transform="translate(1999 446)"><use href="#bY"/><circle cx="5" cy="26" r="2" fill="#1a8a1a"/></g>

<!-- thumbnail -->
<rect x="1879" y="697.500" width="129" height="88" fill="none" stroke="#3f7a30"/>
<rect x="1878" y="712" width="118" height="70" fill="#f00"/>
<path d="M1900 716H1960L1962 721 1966 722V727L1955 725 1953 727V737L1963 738V754H1960V764H1950V777H1940V780H1908V772L1903 771 1902 762V737L1897 736 1912 735V730H1899V720Z" fill="none" stroke="#22dde0" stroke-width="1.800"/>
<path d="M1900 716H1960M1902 737V762M1910 780H1940M1950 764H1960" fill="none" stroke="#9a9a9a" stroke-width="1.800"/>
<path d="M1894 777l7 7M1901 777l-7 7" stroke="#fff" fill="none"/>
<rect x="1877" y="993" width="131" height="2" fill="#bfeee0"/>
<rect x="1877" y="995" width="131" height="2" fill="#3f7a70"/>
<rect x="1877" y="997" width="131" height="21" fill="#55cdb0"/>
<text x="1881" y="1014" font-family="'Liberation Mono',monospace" font-size="15" font-weight="bold" fill="#111">X = -3.159261"</text>

<!-- Popview 1 -->
<rect x="236" y="289" width="451" height="449" fill="#000"/>
<rect x="238" y="320" width="447" height="417" fill="#55cdb0"/>
<rect x="237" y="290" width="448" height="30" fill="#fff"/>
<rect x="237" y="320" width="411" height="3" fill="#3f7a70"/>
<rect x="237" y="320" width="4" height="388" fill="#3f7a70"/>
<rect x="241" y="323" width="404" height="382" fill="#000"/>
<g clip-path="url(#c1)">
<path d="M241 323h34v71h-34z" fill="#ba9600" stroke="#5e9a00" stroke-width="2"/>
<circle cx="367" cy="328" r="75" fill="#459a00"/>
<path d="M445 320V345A63 63 0 0 0 493 408H593A50 63 0 0 0 642 345V320" fill="none" stroke="#5e9a00" stroke-width="10"/>
<path d="M445 320V345A63 63 0 0 0 493 408H593A50 63 0 0 0 642 345V320" fill="none" stroke="#b09a00" stroke-width="2.500"/>
<path d="M240 425h107v71h-107zM240 540h108v74h-108z" fill="#ba9600" stroke="#5e9a00" stroke-width="2"/>
<path d="M241 638H645" stroke="#5e9a00" stroke-width="10"/>
<path d="M241 638H645" stroke="#b09a00" stroke-width="2.500"/>
<circle cx="445" cy="484" r="15.500" fill="#f00"/>
</g>
<rect x="645" y="323" width="3" height="385" fill="#bfeee0"/>
<rect x="241" y="705" width="407" height="3" fill="#bfeee0"/>
<rect x="648" y="320" width="3" height="388" fill="#55cdb0"/>
<use href="#pvtb" x="651" y="322"/>
<rect x="238" y="708" width="447" height="29" fill="#3f8a78"/>
<rect x="239" y="710" width="444" height="25" fill="#9fdbdb"/>
<path d="M239 710h444l-2 2H241v21l-2 2z" fill="#d8f2f0"/><path d="M683 710v25H239l2-2h440v-21z" fill="#4d8f88"/>
<text x="460" y="727" text-anchor="middle" font-family="'Liberation Mono',monospace" font-size="14.800" font-weight="bold" fill="#111">Close</text>
<use href="#ti" x="245" y="297"/>
<text x="266" y="310" font-family="'Liberation Sans',sans-serif" font-size="13.500" fill="#9a9a9a" textLength="67" lengthAdjust="spacingAndGlyphs">Popview - 1</text>
<path d="M665 299l10 10M675 299l-10 10" stroke="#999" fill="none"/>

<!-- Popview 2 -->
<rect x="1135" y="391" width="481" height="450" fill="#000"/>
<rect x="1137" y="422" width="478" height="418" fill="#55cdb0"/>
<rect x="1136" y="392" width="479" height="30" fill="#fff"/>
<rect x="1136" y="422" width="441" height="3" fill="#3f7a70"/>
<rect x="1136" y="422" width="3" height="391" fill="#3f7a70"/>
<rect x="1139" y="425" width="435" height="385" fill="#000"/>
<g clip-path="url(#c2)">
<path d="M1139 420h39v111h-39z" fill="#ba9600" stroke="#5e9a00" stroke-width="2"/>
<circle cx="1300" cy="444" r="99" fill="#459a00"/>
<path d="M1403 420V473A77 77 0 0 0 1473 550H1580" fill="none" stroke="#459a00" stroke-width="12"/>
<path d="M1403 420V473A77 77 0 0 0 1473 550H1580" fill="none" stroke="#b09a00" stroke-width="3"/>
<path d="M1382 607h94v150h-94zM1536 607h50v150h-50z" fill="#ba9600" stroke="#5e9a00" stroke-width="4"/>
<circle cx="1267" cy="597" r="21" fill="#f00"/>
</g>
<rect x="1574" y="425" width="3" height="388" fill="#bfeee0"/>
<rect x="1139" y="810" width="438" height="3" fill="#bfeee0"/>
<rect x="1577" y="422" width="3" height="391" fill="#55cdb0"/>
<use href="#pvtb" x="1580" y="424"/>
<rect x="1137" y="813" width="478" height="28" fill="#3f8a78"/>
<rect x="1138" y="815" width="475" height="25" fill="#9fdbdb"/>
<path d="M1138 815h475l-2 2H1140v21l-2 2z" fill="#d8f2f0"/><path d="M1613 815v25H1138l2-2h471v-21z" fill="#4d8f88"/>
<text x="1375" y="832" text-anchor="middle" font-family="'Liberation Mono',monospace" font-size="14.800" font-weight="bold" fill="#111">Close</text>
<use href="#ti" x="1144" y="399"/>
<text x="1165" y="412" font-family="'Liberation Sans',sans-serif" font-size="13.500" fill="#333" textLength="68" lengthAdjust="spacingAndGlyphs">Popview - 2</text>
<path d="M1595 401l10 10M1605 401l-10 10" stroke="#222" fill="none"/>
</svg>
</body></html>
